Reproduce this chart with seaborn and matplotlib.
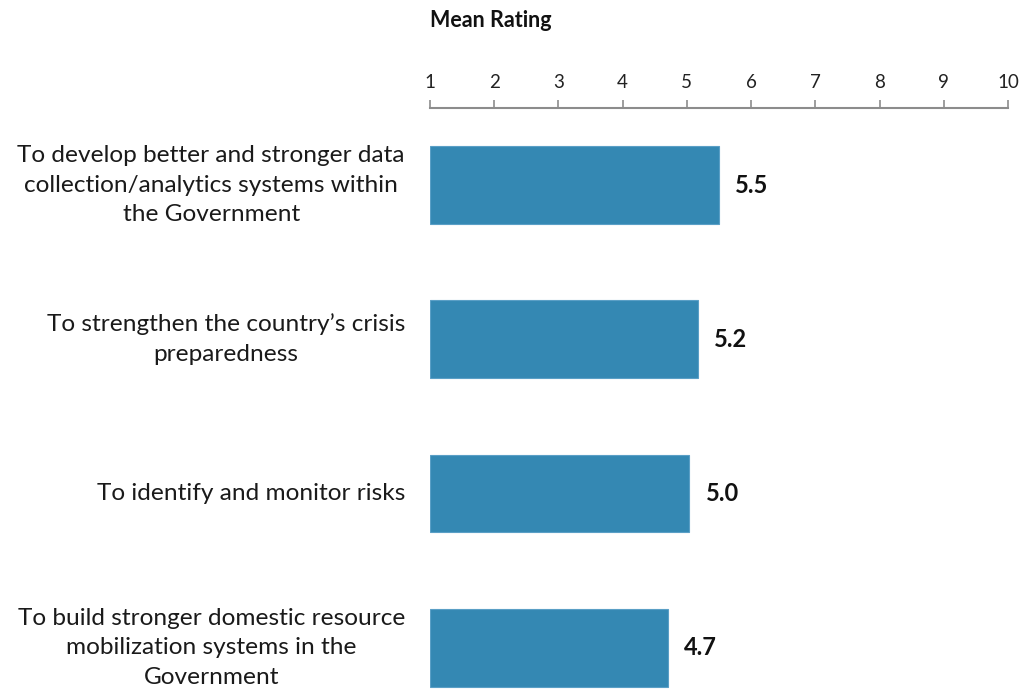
import matplotlib
matplotlib.use("Agg")
import matplotlib.pyplot as plt
import matplotlib.transforms as mtransforms
import seaborn as sns
import pandas as pd

# Survey purposes and their mean ratings (scale 1-10)
purposes = [
    "To develop better and stronger data\ncollection/analytics systems within\nthe Government",
    "To strengthen the country\u2019s crisis\npreparedness",
    "To identify and monitor risks",
    "To build stronger domestic resource\nmobilization systems in the\nGovernment",
]
mean_rating = [5.50, 5.17, 5.04, 4.71]
x_ticks = [1, 2, 3, 4, 5, 6, 7, 8, 9, 10]

df = pd.DataFrame({"purpose": purposes, "rating": mean_rating})

sns.set_theme(style="white")
plt.rcParams["font.family"] = ["Lato", "DejaVu Sans"]

bar_color = "#3488B3"
axis_gray = "#8C8C8C"

fig = plt.figure(figsize=(10.26, 6.94), dpi=100)
ax = fig.add_axes([0.419, 0.0, 0.5635, 0.8444])

# Bars start at the scale minimum of 1
df["span"] = df["rating"] - 1
sns.barplot(data=df, x="span", y="purpose", color=bar_color, width=0.505,
            saturation=1, left=1, edgecolor="#5A9FC6", linewidth=0.8, ax=ax)

ax.set_xlim(1, 10)
ax.set_ylim(3.3, -0.5)
ax.set_xticks(x_ticks)
ax.set_xticklabels([str(t) for t in x_ticks])
ax.xaxis.tick_top()
ax.tick_params(axis="x", which="both", direction="out", length=6, width=1.2,
               color=axis_gray, labelsize=13.5, labelcolor="#222222", pad=6,
               top=True, bottom=False)

# Category labels: right-aligned block, centred lines, generous spacing
ax.set_yticks(range(len(purposes)))
ax.set_yticklabels([])
ax.tick_params(axis="y", length=0)
label_tf = mtransforms.offset_copy(
    mtransforms.blended_transform_factory(ax.transAxes, ax.transData),
    fig=fig, x=-18, y=0, units="points")
for i, name in enumerate(purposes):
    ax.text(0, i, name, transform=label_tf, ha="right", va="center",
            multialignment="center", linespacing=1.5,
            fontsize=17.6, color="#1a1a1a")

for side in ["left", "right", "bottom"]:
    ax.spines[side].set_visible(False)
ax.spines["top"].set_visible(True)
ax.spines["top"].set_color(axis_gray)
ax.spines["top"].set_linewidth(1.5)

ax.set_xlabel("")
ax.set_ylabel("")

# Value labels beside each bar
for i, v in enumerate(mean_rating):
    ax.text(v + 0.25, i, f"{v:.1f}", va="center", ha="left",
            fontsize=17, fontweight="bold", color="#111111")

fig.text(0.419, 0.97, "Mean Rating", ha="left", va="center",
         fontsize=15.5, fontweight="bold", color="#111111")

fig.savefig("out.png", dpi=100)
